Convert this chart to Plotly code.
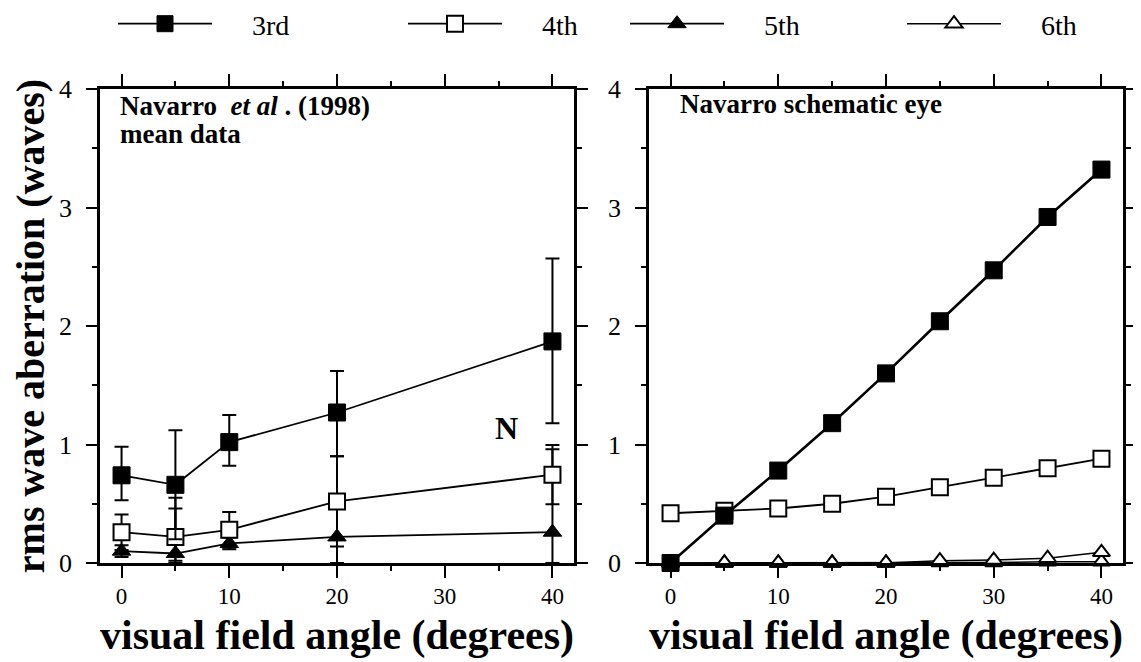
import plotly.graph_objects as go

# ---------------- data ----------------
angles_mean = [0, 5, 10, 20, 40]
mean_3rd = [0.74, 0.66, 1.02, 1.27, 1.87]
mean_3rd_err_plus = [0.24, 0.46, 0.23, 0.35, 0.70]
mean_3rd_err_minus = [0.21, 0.46, 0.20, 0.37, 0.69]
mean_4th = [0.26, 0.22, 0.28, 0.52, 0.745]
mean_4th_err_plus = [0.15, 0.33, 0.15, 0.38, 0.25]
mean_4th_err_minus = [0.15, 0.20, 0.15, 0.38, 0.25]
mean_5th = [0.10, 0.08, 0.165, 0.22, 0.26]
mean_5th_err_plus = [0.05, 0.38, 0.05, 0.30, 0.70]
mean_5th_err_minus = [0.05, 0.08, 0.05, 0.22, 0.26]

angles_model = [0, 5, 10, 15, 20, 25, 30, 35, 40]
model_3rd = [0.0, 0.40, 0.78, 1.18, 1.60, 2.04, 2.47, 2.92, 3.32]
model_4th = [0.42, 0.44, 0.46, 0.50, 0.56, 0.64, 0.72, 0.80, 0.88]
model_5th = [0.0, 0.0, 0.0, 0.0, 0.0, 0.02, 0.025, 0.04, 0.09]
model_6th = [0.0, 0.0, 0.0, 0.0, 0.0, 0.005, 0.005, 0.01, 0.01]

series_names = ["3rd", "4th", "5th", "6th"]
x_ticks = [0, 10, 20, 30, 40]
y_ticks = [0, 1, 2, 3, 4]

FONT = "Liberation Serif"
BLACK = "black"

fig = go.Figure()

SQ = dict(symbol="square", size=17, color=BLACK, line=dict(color=BLACK, width=1))
SQO = dict(symbol="square", size=16, color="white", line=dict(color=BLACK, width=2))
TRI = dict(symbol="triangle-up", size=16, color=BLACK, line=dict(color=BLACK, width=1))
TRIO = dict(symbol="triangle-up", size=15, color="white", line=dict(color=BLACK, width=2))

def err(plus, minus):
    return dict(type="data", symmetric=False, array=plus, arrayminus=minus,
                color=BLACK, thickness=2, width=7)

pad = "\u00a0" * 5

# ----- left panel (mean data) -----
fig.add_trace(go.Scatter(x=angles_mean, y=mean_5th, mode="lines+markers",
                         name=pad + series_names[2], legend="legend3",
                         line=dict(color=BLACK, width=1.8), marker=TRI,
                         error_y=err(mean_5th_err_plus, mean_5th_err_minus),
                         cliponaxis=False, xaxis="x", yaxis="y"))
fig.add_trace(go.Scatter(x=angles_mean, y=mean_4th, mode="lines+markers",
                         name=pad + series_names[1], legend="legend2",
                         line=dict(color=BLACK, width=1.8), marker=SQO,
                         error_y=err(mean_4th_err_plus, mean_4th_err_minus),
                         cliponaxis=False, xaxis="x", yaxis="y"))
fig.add_trace(go.Scatter(x=angles_mean, y=mean_3rd, mode="lines+markers",
                         name=pad + series_names[0], legend="legend",
                         line=dict(color=BLACK, width=1.8), marker=SQ,
                         error_y=err(mean_3rd_err_plus, mean_3rd_err_minus),
                         cliponaxis=False, xaxis="x", yaxis="y"))

# ----- right panel (schematic eye) -----
fig.add_trace(go.Scatter(x=angles_model, y=model_6th, mode="lines+markers",
                         name=pad + series_names[3], legend="legend4",
                         line=dict(color=BLACK, width=1.5), marker=TRIO,
                         cliponaxis=False, xaxis="x2", yaxis="y2"))
fig.add_trace(go.Scatter(x=angles_model, y=model_5th, mode="lines+markers",
                         name=series_names[2], showlegend=False,
                         line=dict(color=BLACK, width=1.5), marker=TRIO,
                         cliponaxis=False, xaxis="x2", yaxis="y2"))
fig.add_trace(go.Scatter(x=angles_model, y=model_4th, mode="lines+markers",
                         name=series_names[1], showlegend=False,
                         line=dict(color=BLACK, width=1.8), marker=SQO,
                         cliponaxis=False, xaxis="x2", yaxis="y2"))
fig.add_trace(go.Scatter(x=angles_model, y=model_3rd, mode="lines+markers",
                         name=series_names[0], showlegend=False,
                         line=dict(color=BLACK, width=2.6), marker=SQ,
                         cliponaxis=False, xaxis="x2", yaxis="y2"))

# page offset (default body margin of the html page)
OFF = 8
W, H = 1141, 662
# target plot area in page pixels: x 100..1123, y 89..563
ML = 100 - OFF
MT = 89 - OFF
MR = W - (1123 - OFF)
MB = H - (563 - OFF)
pw = W - ML - MR
ph = H - MT - MB

def px2paper(page_px):
    return (page_px - OFF - ML) / pw

common_x = dict(range=[-2, 42], tickmode="array", tickvals=x_ticks,
                ticktext=[str(v) for v in x_ticks],
                ticks="outside", ticklen=12, tickwidth=2, tickcolor=BLACK,
                minor=dict(dtick=5, ticks="outside", ticklen=5, tickwidth=1.5, tickcolor=BLACK),
                showline=True, linewidth=2.5, linecolor=BLACK, mirror="ticks",
                showgrid=False, zeroline=False, ticklabelstandoff=-1,
                tickfont=dict(family=FONT, size=23, color=BLACK),
                title=dict(text="<b>visual field angle (degrees)</b>", standoff=12,
                           font=dict(family=FONT, size=42, color=BLACK)))
common_y = dict(range=[0, 4], tickmode="array", tickvals=y_ticks,
                ticktext=[str(v) for v in y_ticks],
                ticks="outside", ticklen=11, tickwidth=2, tickcolor=BLACK,
                minor=dict(dtick=0.5, ticks="outside", ticklen=5, tickwidth=1.5, tickcolor=BLACK),
                showline=True, linewidth=2.5, linecolor=BLACK, mirror="ticks",
                showgrid=False, zeroline=False, ticklabelstandoff=9,
                tickfont=dict(family=FONT, size=26, color=BLACK))

leg_common = dict(orientation="h", xanchor="left", yanchor="middle",
                  y=1 + (89 - 24) / ph, itemwidth=94,
                  bgcolor="rgba(0,0,0,0)", borderwidth=0,
                  font=dict(family=FONT, size=28, color=BLACK))

fig.update_layout(
    width=W, height=H,
    margin=dict(l=ML, r=MR, t=MT, b=MB, autoexpand=False),
    paper_bgcolor="white", plot_bgcolor="white",
    font=dict(family=FONT, color=BLACK),
    xaxis=dict(domain=[0, px2paper(574)], anchor="y", **common_x),
    xaxis2=dict(domain=[px2paper(649), 1], anchor="y2", **common_x),
    yaxis=dict(domain=[0, 1], anchor="x", **common_y,
               title=dict(text="<b>rms wave aberration (waves)</b>", standoff=15,
                          font=dict(family=FONT, size=40, color=BLACK))),
    yaxis2=dict(domain=[0, 1], anchor="x2", **common_y),
    legend=dict(x=px2paper(113), **leg_common),
    legend2=dict(x=px2paper(403), **leg_common),
    legend3=dict(x=px2paper(625), **leg_common),
    legend4=dict(x=px2paper(902), **leg_common),
    showlegend=True,
)

ann_font = dict(family=FONT, size=27, color=BLACK)
fig.add_annotation(xref="x domain", yref="y domain", x=(118 - 100) / 474,
                   y=(563 - 106) / 474, xanchor="left", yanchor="middle",
                   text="<b>Navarro  <i>et al</i> . (1998)</b>", showarrow=False, font=ann_font)
fig.add_annotation(xref="x domain", yref="y domain", x=(118 - 100) / 474,
                   y=(563 - 134) / 474, xanchor="left", yanchor="middle",
                   text="<b>mean data</b>", showarrow=False, font=ann_font)
fig.add_annotation(xref="x", yref="y", x=35.7, y=1.14, xanchor="center", yanchor="middle",
                   text="<b>N</b>", showarrow=False,
                   font=dict(family=FONT, size=32, color=BLACK))
fig.add_annotation(xref="x2 domain", yref="y2 domain", x=(678 - 649) / 474,
                   y=(563 - 104) / 474, xanchor="left", yanchor="middle",
                   text="<b>Navarro schematic eye</b>", showarrow=False, font=ann_font)

fig.write_html("out.html")
